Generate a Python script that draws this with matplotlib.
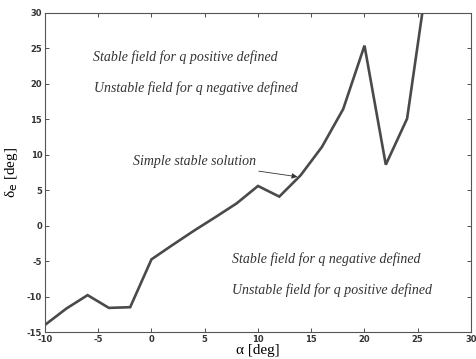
import matplotlib
matplotlib.use("Agg")
import matplotlib.pyplot as plt

plt.rcParams["axes.unicode_minus"] = False

# angle of attack [deg] and elevator deflection [deg]
alpha = [-10, -8, -6, -4, -2, 0, 2, 4, 6, 8, 10, 12, 14, 16, 18, 20, 22, 24, 26]
delta_e = [-14.0, -11.7, -9.8, -11.6, -11.5, -4.75, -2.7, -0.7, 1.2, 3.15,
           5.6, 4.1, 7.1, 11.1, 16.45, 25.4, 8.6, 15.1, 36.0]

xticks = [-10, -5, 0, 5, 10, 15, 20, 25, 30]
yticks = [-15, -10, -5, 0, 5, 10, 15, 20, 25, 30]

serif = "Liberation Serif"

fig = plt.figure(figsize=(4.76, 3.59), dpi=100)
ax = fig.add_axes([0.0945, 0.0752, 0.895, 0.8886])

ax.plot(alpha, delta_e, color="#4a4a4a", linewidth=1.9, solid_joinstyle="miter")

ax.set_xlim(-10, 30)
ax.set_ylim(-15, 30)
ax.set_xticks(xticks)
ax.set_yticks(yticks)
ax.tick_params(direction="in", length=3, width=0.6, top=True, right=True,
               labelsize=6, colors="#333333", pad=2)
for lbl in ax.get_xticklabels() + ax.get_yticklabels():
    lbl.set_fontweight("bold")
for s in ax.spines.values():
    s.set_color("#555555")
    s.set_linewidth(0.8)

# text annotations
ax.text(-5.5, 23.8, "Stable field for q positive defined", fontsize=10,
        family=serif, style="italic", va="center", color="#333333")
ax.text(-5.4, 19.4, "Unstable field for q negative defined", fontsize=10,
        family=serif, style="italic", va="center", color="#333333")
ax.text(7.6, -4.7, "Stable field for q negative defined", fontsize=10,
        family=serif, style="italic", va="center", color="#333333")
ax.text(7.6, -9.1, "Unstable field for q positive defined", fontsize=10,
        family=serif, style="italic", va="center", color="#333333")
ax.annotate("Simple stable solution", xy=(13.7, 6.9), xytext=(-1.7, 9.0),
            fontsize=10, family=serif, style="italic", va="center", color="#333333",
            arrowprops=dict(arrowstyle="-|>", color="#333333", lw=0.6,
                            mutation_scale=8, shrinkA=0, shrinkB=0))

ax.set_xlabel("\u03b1 [deg]", fontsize=11, family=serif, labelpad=0)
ax.set_ylabel("\u03b4$_{\\rm e}$ [deg]", fontsize=11, family=serif)
ax.yaxis.set_label_coords(-0.058, 0.5)

fig.savefig("out.png", dpi=100)
